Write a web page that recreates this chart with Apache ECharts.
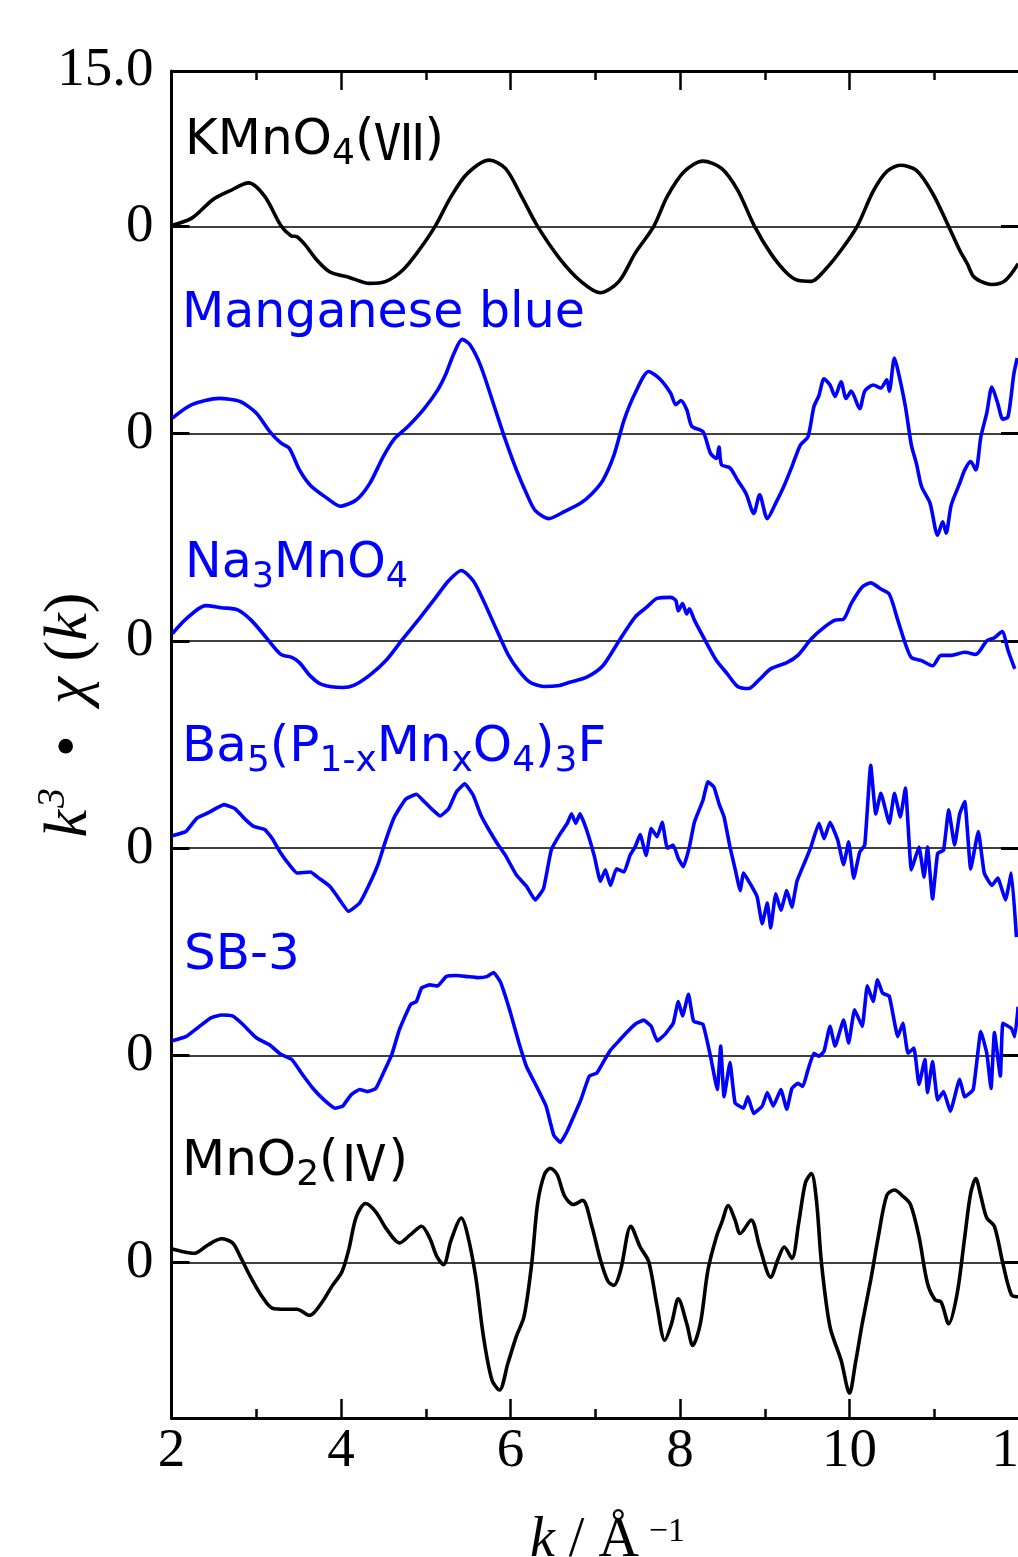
<!DOCTYPE html>
<html><head><meta charset="utf-8">
<script src="https://cdn.jsdelivr.net/npm/echarts@6/dist/echarts.min.js"></script>
<style>html,body{margin:0;padding:0;background:#fff}#c{width:1018px;height:1557px}</style>
</head><body><div id="c"></div>
<script>
// ---- data (k in 1/Å, value = k^3·chi(k), each spectrum relative to its own zero) ----
const kmno4K = [2.00,2.24,2.49,2.68,2.91,3.10,3.29,3.41,3.48,3.58,3.71,3.87,4.09,4.34,4.53,4.73,4.92,5.11,5.30,5.49,5.75,5.94,6.13,6.32,6.58,6.83,7.06,7.28,7.47,7.69,7.85,8.05,8.27,8.49,8.68,8.88,9.07,9.26,9.39,9.55,9.71,9.90,10.09,10.28,10.44,10.60,10.79,10.98,11.17,11.30,11.39,11.46,11.55,11.68,11.84,11.99];
const kmno4V = [0.1,0.8,2.6,3.4,4.2,2.9,0.1,-0.9,-1.0,-1.8,-3.2,-4.4,-4.9,-5.5,-5.3,-4.2,-2.3,0,2.9,5.1,6.4,5.6,2.9,0,-3.1,-5.3,-6.4,-5.3,-2.6,0,2.9,5.3,6.3,5.6,3.5,0,-2.6,-4.5,-5.2,-5.3,-4.2,-2.3,0,3.4,5.3,5.9,5.4,3.2,0,-2.3,-3.6,-4.8,-5.3,-5.6,-5.2,-3.6];

const mnBlueK = [2.01,2.24,2.56,2.81,3.00,3.16,3.29,3.39,3.51,3.64,3.83,3.99,4.18,4.34,4.50,4.63,4.79,4.98,5.14,5.24,5.33,5.43,5.52,5.65,5.81,5.94,6.07,6.19,6.29,6.45,6.64,6.83,6.96,7.09,7.22,7.34,7.47,7.63,7.76,7.89,7.95,8.01,8.08,8.14,8.27,8.36,8.43,8.46,8.49,8.59,8.68,8.78,8.87,8.94,9.03,9.13,9.23,9.32,9.42,9.51,9.58,9.64,9.70,9.77,9.83,9.90,9.96,10.02,10.12,10.18,10.28,10.37,10.44,10.47,10.53,10.58,10.66,10.73,10.79,10.85,10.95,11.04,11.10,11.14,11.20,11.30,11.36,11.43,11.49,11.55,11.62,11.68,11.75,11.81,11.87,11.94,11.98];
const mnBlueV = [1.5,2.8,3.4,3.1,2.0,0.2,-0.9,-1.4,-3.5,-5.0,-6.2,-7.0,-6.4,-4.8,-2.2,-0.5,0.7,2.4,4.2,5.8,7.7,9.1,8.6,6.5,2.6,-0.6,-3.5,-5.8,-7.4,-8.2,-7.5,-6.7,-5.8,-4.5,-2.1,1.3,3.9,6.0,5.3,3.9,2.8,3.2,2.3,0.7,0.2,-1.9,-2.4,-1.3,-3.0,-3.3,-4.5,-5.8,-7.7,-5.9,-8.2,-6.7,-5.0,-3.2,-1.1,-0.3,2.6,3.7,5.3,4.7,3.6,5.0,3.4,4.1,2.4,4.1,4.7,4.4,5.2,4.1,7.3,5.8,2.6,-1.1,-2.9,-5.1,-6.7,-9.8,-8.5,-9.6,-6.9,-4.8,-3.5,-2.7,-3.5,-0.3,2.0,4.5,2.9,1.4,1.6,5.8,7.3];

const na3K = [2.01,2.17,2.40,2.59,2.78,2.94,3.13,3.29,3.42,3.51,3.64,3.77,4.02,4.15,4.34,4.53,4.73,4.92,5.11,5.27,5.42,5.56,5.68,5.84,5.97,6.10,6.23,6.39,6.58,6.70,6.90,7.09,7.28,7.47,7.60,7.73,7.89,7.95,7.98,8.03,8.08,8.11,8.17,8.30,8.43,8.56,8.68,8.81,8.94,9.07,9.26,9.39,9.55,9.70,9.83,9.93,10.02,10.15,10.25,10.37,10.47,10.57,10.66,10.73,10.85,10.98,11.08,11.20,11.36,11.49,11.62,11.71,11.80,11.87,11.95];
const na3V = [0.7,2.1,3.4,3.2,3.0,2.0,0.2,-1.3,-1.6,-2.1,-3.4,-4.2,-4.5,-4.3,-3.3,-1.9,0.2,2.1,4.1,5.8,6.8,5.8,3.9,1.0,-1.3,-2.9,-4.0,-4.4,-4.3,-4.0,-3.5,-2.4,0,2.3,3.2,4.1,4.2,3.9,2.9,3.6,2.6,3.1,2.0,0,-1.9,-3.2,-4.4,-4.6,-3.7,-2.7,-2.1,-1.4,0.2,1.3,2.0,2.1,3.6,5.2,5.6,5.0,4.5,2.0,-0.3,-1.6,-1.9,-2.4,-1.4,-1.4,-1.1,-1.3,0,0.3,0.9,-0.9,-2.7];

const ba5K = [2.01,2.17,2.30,2.43,2.62,2.75,2.88,2.97,3.10,3.19,3.29,3.39,3.48,3.64,3.74,3.87,3.96,4.09,4.22,4.34,4.44,4.53,4.63,4.76,4.89,4.98,5.08,5.17,5.27,5.36,5.46,5.56,5.65,5.75,5.84,5.94,6.07,6.19,6.29,6.39,6.48,6.58,6.67,6.72,6.77,6.82,6.90,6.99,7.06,7.12,7.18,7.25,7.34,7.41,7.47,7.53,7.60,7.66,7.73,7.79,7.85,7.92,7.98,8.04,8.11,8.17,8.27,8.33,8.40,8.46,8.52,8.59,8.65,8.71,8.75,8.84,8.91,8.97,9.03,9.07,9.13,9.19,9.26,9.32,9.38,9.48,9.54,9.64,9.70,9.77,9.86,9.93,9.99,10.05,10.12,10.18,10.25,10.31,10.37,10.47,10.53,10.60,10.66,10.73,10.82,10.88,10.92,10.98,11.04,11.11,11.17,11.24,11.30,11.36,11.43,11.52,11.59,11.68,11.75,11.84,11.91,11.97];
const ba5V = [1.2,1.6,2.9,3.4,4.2,3.8,2.7,2.1,1.8,0.9,-0.5,-1.6,-2.4,-2.3,-2.9,-3.7,-4.7,-6.1,-5.3,-3.4,-1.5,0.8,3.0,4.7,5.2,4.5,3.7,3.1,3.8,5.4,6.2,5.1,3.2,1.7,0.5,-0.7,-2.6,-3.7,-5.0,-3.9,-0.2,1.3,2.4,3.3,2.4,3.3,1.7,-0.8,-3.2,-2.1,-3.6,-2.0,-2.3,-0.7,0.1,1.3,-0.7,1.9,1.1,2.5,0,0.3,-1.0,-1.8,0.1,2.5,4.6,6.4,5.9,4.3,3.0,0.1,-2.0,-4.1,-2.4,-3.6,-4.7,-7.3,-5.3,-7.7,-4.4,-6.0,-4.1,-5.7,-3.2,-1.2,0,2.4,0.9,2.5,0.8,-1.6,0.6,-2.9,-0.4,0.3,8.0,3.3,5.3,2.4,5.3,3.0,5.8,-2.1,0.1,-2.8,0.1,-4.9,-0.5,-0.2,3.7,0.3,3.3,4.5,-2.0,1.6,-2.4,-3.6,-2.9,-5.0,-2.4,-8.6];

const sb3K = [2.01,2.17,2.33,2.46,2.59,2.72,2.84,3.00,3.16,3.29,3.42,3.55,3.67,3.80,3.93,4.02,4.12,4.22,4.31,4.41,4.50,4.60,4.69,4.82,4.89,4.95,5.05,5.14,5.24,5.36,5.49,5.62,5.72,5.80,5.88,5.94,6.00,6.10,6.19,6.32,6.42,6.51,6.59,6.67,6.74,6.83,6.93,7.02,7.12,7.18,7.28,7.37,7.47,7.57,7.66,7.73,7.82,7.92,7.98,8.03,8.10,8.16,8.27,8.36,8.44,8.48,8.52,8.59,8.65,8.75,8.80,8.87,8.97,9.03,9.10,9.19,9.26,9.32,9.39,9.45,9.51,9.58,9.64,9.70,9.77,9.83,9.93,9.99,10.06,10.15,10.21,10.28,10.33,10.39,10.47,10.57,10.63,10.69,10.76,10.82,10.89,10.92,10.98,11.04,11.11,11.19,11.30,11.36,11.46,11.55,11.62,11.67,11.71,11.78,11.81,11.91,11.95,11.99];
const sb3V = [1.4,1.8,2.8,3.6,3.9,3.8,3.0,1.7,1.0,0.1,-0.4,-1.9,-3.2,-4.3,-5.1,-4.9,-3.8,-3.3,-3.5,-3.2,-1.7,0.1,2.5,4.9,5.2,6.5,6.8,6.7,7.6,7.7,7.6,7.5,7.6,8.0,7.1,5.7,4.1,1.2,-1.1,-3.2,-4.9,-7.7,-8.4,-7.3,-6.0,-4.3,-2.0,-1.7,-0.3,0.5,1.4,2.2,3.0,3.4,2.8,1.4,2.0,3.1,5.2,3.8,5.9,3.3,3.0,-0.1,-3.3,0.9,-4.0,-0.7,-4.6,-5.1,-4.0,-5.6,-4.9,-3.6,-4.9,-3.3,-5.2,-3.2,-2.7,-3.0,-1.4,0.2,-0.1,0.4,2.8,0.9,3.4,1.2,4.4,2.8,6.7,5.2,7.3,6.0,5.7,1.8,3.1,0.2,0.7,-2.8,-0.4,-3.6,-0.6,-4.3,-3.5,-5.4,-2.3,-4.0,-3.3,2.3,0.2,-3.2,2.2,-2.0,3.1,2.6,1.8,4.7];

const mno2K = [2.01,2.11,2.27,2.43,2.59,2.72,2.81,2.94,3.07,3.19,3.35,3.48,3.63,3.77,3.90,4.01,4.09,4.18,4.29,4.41,4.54,4.69,4.82,4.95,5.05,5.13,5.21,5.30,5.42,5.49,5.59,5.68,5.78,5.87,5.97,6.07,6.16,6.25,6.32,6.40,6.47,6.55,6.64,6.74,6.85,6.96,7.06,7.15,7.22,7.30,7.42,7.53,7.63,7.73,7.82,7.90,7.98,8.08,8.15,8.24,8.33,8.43,8.49,8.57,8.65,8.71,8.84,8.94,9.07,9.16,9.23,9.32,9.40,9.48,9.55,9.61,9.67,9.77,9.90,10.00,10.07,10.15,10.25,10.34,10.44,10.53,10.63,10.72,10.82,10.92,11.01,11.08,11.17,11.27,11.36,11.43,11.49,11.55,11.62,11.71,11.81,11.91,11.99];
const mno2V = [1.3,1.1,0.9,1.7,2.3,1.9,0.6,-1.5,-3.3,-4.4,-4.5,-4.5,-5.1,-3.9,-2.2,-0.9,1.2,4.4,5.7,4.9,3.2,1.9,2.7,3.5,2.3,0.6,-0.2,2.2,4.3,2.8,-1.4,-7.1,-11.3,-12.3,-9.7,-7.1,-5.2,-0.1,5.7,8.5,9.1,8.5,6.4,5.6,6.0,3.5,0.3,-1.8,-2.2,-0.7,3.5,1.5,0.1,-4.2,-7.5,-5.9,-3.5,-5.9,-8.0,-5.9,-0.7,2.5,3.8,5.5,4.1,2.8,4.1,1.5,-1.4,0.4,1.5,0.4,3.8,7.7,8.6,6.0,-0.1,-6.2,-9.4,-12.6,-9.7,-5.9,-1.7,2.5,6.5,7.0,6.4,5.6,2.5,-2.0,-3.6,-3.8,-5.9,-3.0,2.5,6.7,8.1,6.4,4.3,3.5,-0.1,-3.1,-3.3];

const seriesNames = ['KMnO4(Ⅶ)','Manganese blue','Na3MnO4','Ba5(P1-xMnxO4)3F','SB-3','MnO2(Ⅳ)'];
const seriesLabelsRich = [
  '{n|KMnO}{s|4}{n|(}{r|Ⅶ}{n|)}',
  '{n|Manganese blue}',
  '{n|Na}{s|3}{n|MnO}{s|4}',
  '{n|Ba}{s|5}{n|(P}{s|1-x}{n|Mn}{s|x}{n|O}{s|4}{n|)}{s|3}{n|F}',
  '{n|SB-3}',
  '{n|MnO}{s|2}{n|(}{r|Ⅳ}{n|)}'
];
const offsets = [0, -20, -40, -60, -80, -100];
const xTickLabels = [2, 4, 6, 8, 10, 12];
const yTopLabel = '15.0';

// ---- chart ----
const BLACK = '#000000', BLUE = '#0000ff';
const colors = [BLACK, BLUE, BLUE, BLUE, BLUE, BLACK];
const smooths = [0.3, 0.25, 0.25, 0.12, 0.12, 0.3];
const Ks = [kmno4K, mnBlueK, na3K, ba5K, sb3K, mno2K];
const Vs = [kmno4V, mnBlueV, na3V, ba5V, sb3V, mno2V];
const labelPos = [[185,141,50],[182,314,49],[185,564,49],[182,748,50],[184,956,50],[182,1162,50]];

const chart = echarts.init(document.getElementById('c'), null, {renderer: 'canvas'});

const series = Ks.map((K, i) => ({
  name: seriesNames[i],
  type: 'line',
  data: K.map((k, j) => [k, Vs[i][j] + offsets[i]]),
  showSymbol: false,
  symbol: 'none',
  smooth: smooths[i],
  lineStyle: {color: colors[i], width: 3.6},
  itemStyle: {color: colors[i]},
  z: 3,
  markLine: {
    silent: true, symbol: 'none', animation: false,
    label: {show: false},
    lineStyle: {color: '#000', width: 1.7, type: 'solid'},
    data: [{yAxis: offsets[i]}],
    z: 2
  }
}));

const serifFont = 'Liberation Serif';
const labelFont = 'DejaVu Sans';
const graphics = seriesLabelsRich.map((t, i) => {
  const [x, y, size] = labelPos[i];
  const c = colors[i];
  const sub = Math.round(size * 0.72);
  return {
    type: 'text', x: x, y: y, z: 10,
    style: {
      text: t, align: 'left', verticalAlign: 'middle',
      fill: c, fontFamily: labelFont, fontSize: size,
      rich: {
        n: {fontFamily: labelFont, fontSize: size, fill: c},
        r: {fontFamily: 'Noto Sans CJK JP', fontSize: Math.round(size * 1.0), fill: c},
        s: {fontFamily: labelFont, fontSize: sub, fill: c, padding: [Math.round(size * 0.55), 0, 0, 0]}
      }
    }
  };
});
// y axis title
graphics.push({
  type: 'text', x: 70, y: 715, rotation: Math.PI / 2, z: 10,
  style: {
    text: '{i|k}{sup|3}{n|  •  }{i|χ}{n| (}{i|k}{n|)}',
    align: 'center', verticalAlign: 'middle', fill: '#000',
    rich: {
      i: {fontFamily: serifFont, fontStyle: 'italic', fontSize: 62, fill: '#000'},
      n: {fontFamily: serifFont, fontSize: 62, fill: '#000'},
      sup: {fontFamily: serifFont, fontStyle: 'italic', fontSize: 40, fill: '#000', padding: [0, 0, 34, 2]}
    }
  }
});
// x axis title
graphics.push({
  type: 'text', x: 530, y: 1541, z: 10,
  style: {
    text: '{i|k}{n| / Å}{sup|−1}',
    align: 'left', verticalAlign: 'middle', fill: '#000',
    rich: {
      i: {fontFamily: serifFont, fontStyle: 'italic', fontSize: 56, fill: '#000'},
      n: {fontFamily: serifFont, fontSize: 56, fill: '#000'},
      sup: {fontFamily: serifFont, fontSize: 34, fill: '#000', padding: [0, 0, 18, 10]}
    }
  }
});

const axisLineStyle = {color: '#000', width: 3};
const xCommon = {
  type: 'value', min: 2, max: 12, interval: 2,
  axisLine: {show: true, onZero: false, lineStyle: axisLineStyle},
  axisTick: {show: true, inside: true, length: 19, lineStyle: {color: '#000', width: 2.5}},
  minorTick: {show: true, splitNumber: 2, length: 9, lineStyle: {color: '#000', width: 2.5}},
  splitLine: {show: false}, minorSplitLine: {show: false}
};
const yCommon = {
  type: 'value', min: -115, max: 15, interval: 5,
  axisLine: {show: true, onZero: false, lineStyle: axisLineStyle},
  axisTick: {show: true, inside: true, length: 18, customValues: offsets, lineStyle: {color: '#000', width: 3}},
  splitLine: {show: false}
};

chart.setOption({
  animation: false,
  backgroundColor: '#fff',
  grid: {left: 171.5, top: 71, width: 847.5, height: 1347, outerBoundsMode: 'none', containLabel: false},
  xAxis: [
    Object.assign({}, xCommon, {position: 'bottom',
      axisLabel: {show: true, margin: 6, fontFamily: serifFont, fontSize: 55, color: '#000',
        customValues: xTickLabels, formatter: v => String(v)}}),
    Object.assign({}, xCommon, {position: 'top', axisLabel: {show: false}})
  ],
  yAxis: [
    Object.assign({}, yCommon, {position: 'left',
      axisLabel: {show: true, margin: 18, fontFamily: serifFont, fontSize: 55, color: '#000',
        customValues: [15].concat(offsets), formatter: v => (v === 15 ? yTopLabel : '0')}}),
    Object.assign({}, yCommon, {position: 'right', axisLabel: {show: false}})
  ],
  series: series,
  graphic: graphics
});
</script>
</body></html>
